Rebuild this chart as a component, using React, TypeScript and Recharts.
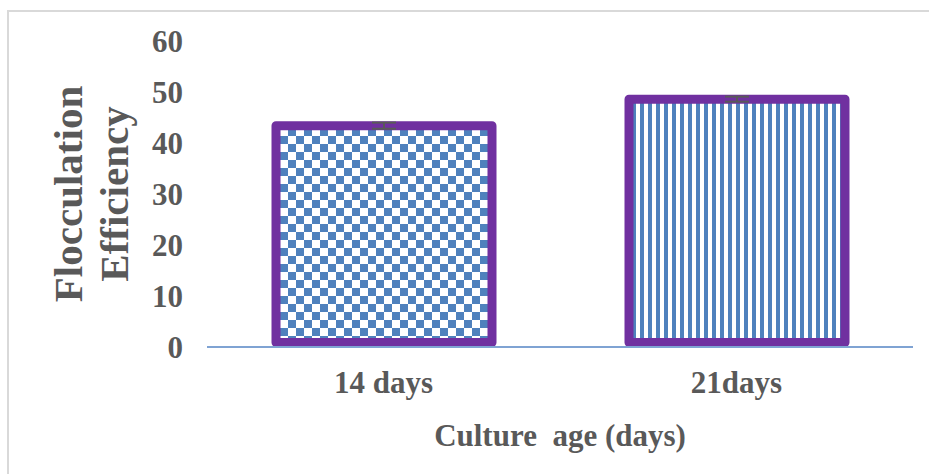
import React from 'react';
import { BarChart, Bar, XAxis, YAxis, ErrorBar, Cell } from 'recharts';

const categories = ['14 days', '21days'];
const efficiency = [43.4, 48.6];
const errors = [0.6, 0.5];
const yTicks = [0, 10, 20, 30, 40, 50, 60];

const data = categories.map((c, i) => ({ name: c, value: efficiency[i], err: errors[i] }));

const fills = ['url(#checker)', 'url(#stripes)'];
const TXT = '#595959';
const FONT = '"Liberation Serif", "Times New Roman", serif';

const BarShape = (props: any) => {
  const { x, y, width, height, index } = props;
  const sw = 9;
  return (
    <rect
      x={x}
      y={y}
      width={width}
      height={Math.max(0, height - sw / 2)}
      fill={fills[index]}
      stroke="#7030A0"
      strokeWidth={sw}
      strokeLinejoin="round"
    />
  );
};

const YTick = (props: any) => {
  const { y, payload } = props;
  return (
    <text x={183} y={y} dy="0.35em" textAnchor="end" fill={TXT} fontFamily={FONT} fontWeight="bold" fontSize={31}>
      {payload.value}
    </text>
  );
};

const XTick = (props: any) => {
  const { x, payload } = props;
  return (
    <text x={x} y={393} textAnchor="middle" fill={TXT} fontFamily={FONT} fontWeight="bold" fontSize={31}>
      {payload.value}
    </text>
  );
};

const YTitle = (props: any) => {
  const vb = props.viewBox || {};
  const cy = (vb.y || 0) + (vb.height || 0) / 2;
  return (
    <g transform={`translate(0, ${cy}) rotate(-90)`}>
      <text x={0} y={82} textAnchor="middle" fill={TXT} fontFamily={FONT} fontWeight="bold" fontSize={41}>
        Flocculation
      </text>
      <text x={0} y={128} textAnchor="middle" fill={TXT} fontFamily={FONT} fontWeight="bold" fontSize={41}>
        Efficiency
      </text>
    </g>
  );
};

const XTitle = (props: any) => {
  const vb = props.viewBox || {};
  const cx = (vb.x || 0) + (vb.width || 0) / 2;
  return (
    <text x={cx} y={446} textAnchor="middle" fill={TXT} fontFamily={FONT} fontWeight="bold" fontSize={31} style={{ whiteSpace: 'pre' }}>
      {'Culture  age (days)'}
    </text>
  );
};

export default function App() {
  return (
    <div style={{ position: 'absolute', left: 0, top: 0, width: 929, height: 474, background: '#fff' }}>
      <svg width={0} height={0} style={{ position: 'absolute' }}>
        <defs>
          <pattern id="checker" width={16} height={16} patternUnits="userSpaceOnUse">
            <rect x={0} y={0} width={16} height={16} fill="#ffffff" />
            <rect x={0} y={0} width={8} height={8} fill="#4F81BD" />
            <rect x={8} y={8} width={8} height={8} fill="#4F81BD" />
          </pattern>
          <pattern id="stripes" width={8} height={8} patternUnits="userSpaceOnUse">
            <rect x={0} y={0} width={8} height={8} fill="#ffffff" />
            <rect x={0} y={0} width={4} height={8} fill="#4F81BD" />
          </pattern>
        </defs>
      </svg>
      <div style={{ position: 'absolute', left: 7, top: 10, width: 922, height: 464, borderLeft: '2px solid #d9d9d9', borderTop: '2px solid #d9d9d9' }} />
      <div style={{ position: 'absolute', left: 0, top: 0 }}>
        <BarChart width={929} height={474} data={data} margin={{ top: 41, right: 16, bottom: 0, left: 0 }}>
          <XAxis
            dataKey="name"
            height={127}
            axisLine={{ stroke: '#7FA3D3', strokeWidth: 2 }}
            tickLine={false}
            tick={<XTick />}
            interval={0}
            label={<XTitle />}
          />
          <YAxis
            width={207}
            domain={[0, 60]}
            ticks={yTicks}
            axisLine={false}
            tickLine={false}
            tick={<YTick />}
            label={<YTitle />}
          />
          <Bar dataKey="value" barSize={216} isAnimationActive={false} shape={<BarShape />}>
            {data.map((d, i) => (
              <Cell key={d.name} fill={fills[i]} />
            ))}
            <ErrorBar dataKey="err" width={12} stroke="#595959" strokeWidth={2} isAnimationActive={false} />
          </Bar>
        </BarChart>
      </div>
    </div>
  );
}
